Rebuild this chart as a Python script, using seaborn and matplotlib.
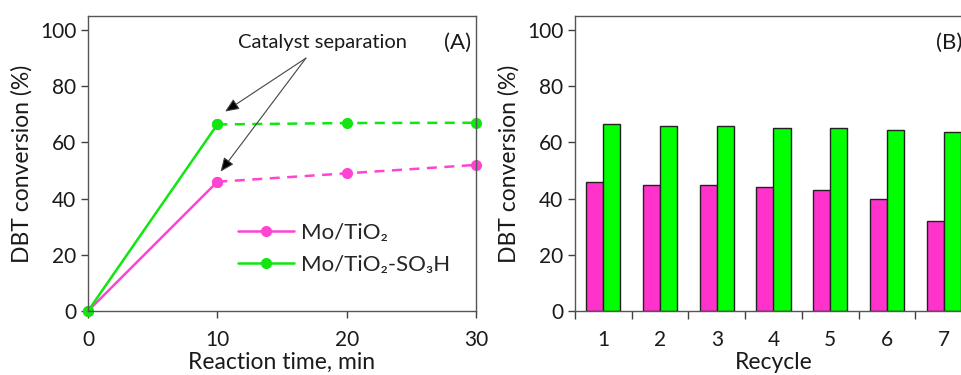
import matplotlib
matplotlib.use("Agg")
import matplotlib.pyplot as plt
from matplotlib.lines import Line2D
import seaborn as sns
import pandas as pd
import numpy as np

# ---- data ----
time_min = [0, 10, 20, 30]
mo_tio2 = [0, 46, 49, 52]
mo_tio2_so3h = [0, 66.4, 66.9, 67.0]

recycle = [1, 2, 3, 4, 5, 6, 7]
bar_mo_tio2 = [46, 45, 45, 44, 43, 40, 32]
bar_mo_tio2_so3h = [66.4, 66, 66, 65, 65, 64.3, 63.8]

series_names = ["Mo/TiO\u2082", "Mo/TiO\u2082-SO\u2083H"]
PINK_LINE = "#FF44D2"
GREEN_LINE = "#11E611"
PINK_BAR = "#FF33CC"
GREEN_BAR = "#00FF00"
SPINE = "#404040"
TXT = "#1a1a1a"

sns.set_theme(style="white")
plt.rcParams["font.family"] = ["Lato", "DejaVu Sans"]
plt.rcParams["axes.edgecolor"] = SPINE
plt.rcParams["xtick.color"] = SPINE
plt.rcParams["ytick.color"] = SPINE

fig = plt.figure(figsize=(9.62, 3.75), dpi=100)
W, H = 962, 375

def px_axes(l, t, r, b):
    return fig.add_axes([l / W, (H - b) / H, (r - l) / W, (b - t) / H])

# ---------- Panel A ----------
ax1 = px_axes(88, 16, 476, 311)
lines = pd.DataFrame({
    "t": time_min * 2,
    "y": mo_tio2 + mo_tio2_so3h,
    "s": [series_names[0]] * 4 + [series_names[1]] * 4,
})
palette = {series_names[0]: PINK_LINE, series_names[1]: GREEN_LINE}
solid = lines[lines["t"] <= 10]
dashed = lines[lines["t"] >= 10]
sns.lineplot(data=solid, x="t", y="y", hue="s", palette=palette, ax=ax1,
             linewidth=1.8, legend=False, marker="o", markersize=8,
             markeredgewidth=0, sort=False)
sns.lineplot(data=dashed, x="t", y="y", hue="s", palette=palette, ax=ax1,
             linewidth=1.8, legend=False, marker="o", markersize=8,
             markeredgewidth=0, sort=False, dashes=False)
for ln in ax1.get_lines()[2:]:
    ln.set_linestyle((0, (4, 3)))
for ln in ax1.get_lines():
    ln.set_clip_on(False)

ax1.set_xlim(0, 30)
ax1.set_ylim(0, 105)
ax1.set_xticks([0, 10, 20, 30])
ax1.set_yticks([0, 20, 40, 60, 80, 100])
ax1.set_xlabel("Reaction time, min", fontsize=16.5, color=TXT, labelpad=1)
ax1.set_ylabel("DBT conversion (%)", fontsize=16.5, color=TXT, labelpad=5)
ax1.tick_params(axis="both", direction="out", length=5, width=1,
                labelsize=15, labelcolor=TXT, bottom=True, left=True)
ax1.tick_params(axis="x", pad=9)
for sp in ax1.spines.values():
    sp.set_linewidth(1.0)
    sp.set_color("#555555")

handles = [
    Line2D([], [], color=PINK_LINE, marker="o", markersize=8, markeredgewidth=0, linewidth=1.8),
    Line2D([], [], color=GREEN_LINE, marker="o", markersize=8, markeredgewidth=0, linewidth=1.8),
]
ax1.legend(handles, series_names, loc="center left", bbox_to_anchor=(0.335, 0.21),
           frameon=False, fontsize=16, handlelength=2.5, handletextpad=0.35,
           labelspacing=0.55)

ax1.text(18.1, 95.5, "Catalyst separation", fontsize=14.5, ha="center", va="center",
         color=TXT)
ax1.text(29.6, 95.5, "(A)", fontsize=16, ha="right", va="center", color=TXT)
for end in [(10.6, 71.0), (10.25, 49.6)]:
    ax1.annotate("", xy=end, xytext=(16.85, 90.0),
                 arrowprops=dict(arrowstyle="-|>,head_length=0.7,head_width=0.3",
                                 color="#444444", lw=0.8, shrinkA=0, shrinkB=0,
                                 fc="black"))

# ---------- Panel B ----------
ax2 = px_axes(575, 16, 972, 311)
bars = pd.DataFrame({
    "Recycle": [str(r) for r in recycle] * 2,
    "val": bar_mo_tio2 + bar_mo_tio2_so3h,
    "s": [series_names[0]] * len(recycle) + [series_names[1]] * len(recycle),
})
sns.barplot(data=bars, x="Recycle", y="val", hue="s",
            palette={series_names[0]: PINK_BAR, series_names[1]: GREEN_BAR},
            width=0.6, edgecolor="#222222", linewidth=1.0, ax=ax2, legend=False,
            saturation=1)
ax2.set_xlim(-0.5, 6.5)
ax2.set_ylim(0, 105)
ax2.set_yticks([0, 20, 40, 60, 80, 100])
ax2.set_xticks(range(7))
ax2.set_xticklabels([str(r) for r in recycle])
ax2.set_xticks(np.arange(-0.5, 7.0, 1.0), minor=True)
ax2.tick_params(axis="x", which="major", length=0, pad=14, labelsize=15,
                labelcolor=TXT)
ax2.tick_params(axis="x", which="minor", direction="out", length=6, width=1,
                bottom=True, color=SPINE)
ax2.tick_params(axis="y", direction="out", length=5, width=1, left=True,
                labelsize=15, labelcolor=TXT)
ax2.set_xlabel("Recycle", fontsize=16.5, color=TXT, labelpad=1)
ax2.set_ylabel("DBT conversion (%)", fontsize=16.5, color=TXT, labelpad=5)
for sp in ax2.spines.values():
    sp.set_linewidth(1.0)
    sp.set_color("#555555")
ax2.text(6.33, 95.5, "(B)", fontsize=16, ha="right", va="center", color=TXT)

fig.savefig("out.png", dpi=100)
